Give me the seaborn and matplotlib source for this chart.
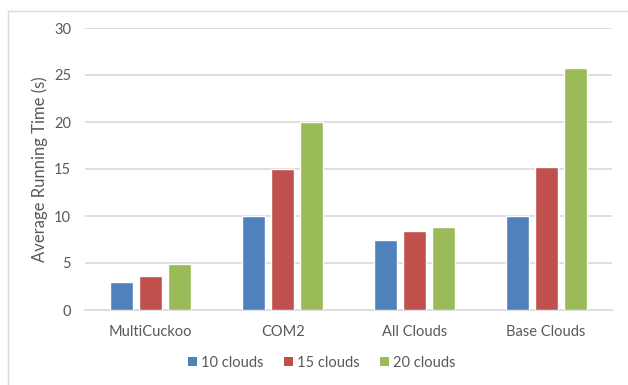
import matplotlib
matplotlib.use("Agg")
import matplotlib.pyplot as plt
from matplotlib.lines import Line2D
from matplotlib.patches import Patch
import pandas as pd
import seaborn as sns

categories = ["MultiCuckoo", "COM2", "All Clouds", "Base Clouds"]
series_names = ["10 clouds", "15 clouds", "20 clouds"]
clouds_10 = [3.0, 10.0, 7.4, 10.0]
clouds_15 = [3.6, 15.05, 8.4, 15.2]
clouds_20 = [4.9, 20.0, 8.8, 25.7]
y_ticks = [0, 5, 10, 15, 20, 25, 30]
colors = ["#4F81BD", "#C0504D", "#9BBB59"]

rows = []
for name, values in zip(series_names, [clouds_10, clouds_15, clouds_20]):
    for cat, v in zip(categories, values):
        rows.append({"Method": cat, "Series": name, "Time": v})
df = pd.DataFrame(rows)

sns.set_theme(style="white")
plt.rcParams["font.family"] = ["Lato", "DejaVu Sans"]
text_color = "#595959"
grid_color = "#D9D9D9"

fig = plt.figure(figsize=(6.28, 3.85), dpi=100)
ax = fig.add_axes([85 / 628, 1 - 310 / 385, (612 - 85) / 628, (310 - 28) / 385])

sns.barplot(
    data=df, x="Method", y="Time", hue="Series",
    order=categories, hue_order=series_names,
    palette=colors, width=0.66, gap=0.2, saturation=1,
    errorbar=None, ax=ax, legend=False, zorder=3,
)

ax.set_ylim(0, 30)
ax.set_xlim(-0.5, len(categories) - 0.5)
ax.set_yticks(y_ticks)
ax.set_yticklabels([str(t) for t in y_ticks])
ax.yaxis.grid(True, color=grid_color, linewidth=1.2, zorder=0)
ax.set_axisbelow(True)
for side in ["top", "right", "left"]:
    ax.spines[side].set_visible(False)
ax.spines["bottom"].set_color(grid_color)
ax.spines["bottom"].set_linewidth(1.2)
ax.tick_params(axis="both", length=0, colors=text_color, labelsize=10.5)
ax.tick_params(axis="y", pad=10)
ax.tick_params(axis="x", pad=11)
ax.set_xlabel("")
ax.set_ylabel("Average Running Time (s)", color=text_color, fontsize=12)
ax.yaxis.set_label_coords(-0.071, 0.5)

# outer chart frame (left and top edges)
fig.add_artist(Line2D([7.5 / 628, 7.5 / 628], [0, 1 - 10.5 / 385],
                      transform=fig.transFigure, color="#D9D9D9", linewidth=1))
fig.add_artist(Line2D([7.5 / 628, 627 / 628], [1 - 10.5 / 385, 1 - 10.5 / 385],
                      transform=fig.transFigure, color="#D9D9D9", linewidth=1))

handles = [Patch(facecolor=c, edgecolor="none") for c in colors]
fig.legend(handles, series_names, loc="center", bbox_to_anchor=(322 / 628, 1 - 363 / 385),
           ncol=3, frameon=False, fontsize=10.5, labelcolor=text_color,
           handlelength=0.6, handleheight=0.6, handletextpad=0.3, columnspacing=1.4)

fig.savefig("out.png", dpi=100)
